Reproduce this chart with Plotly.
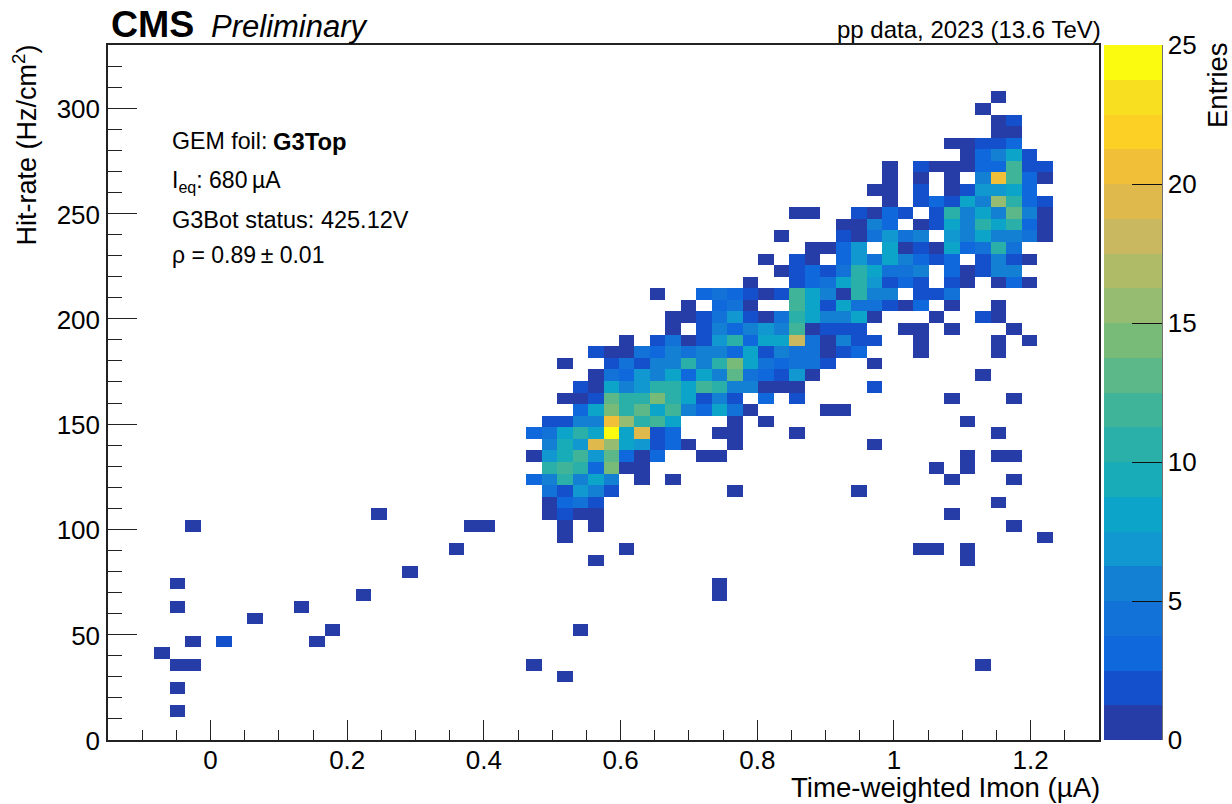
import plotly.graph_objects as go

# Histogram binning
x_min, x_max, n_x = -0.15, 1.30, 64
y_min, y_max, n_y = 0.0, 330.0, 60

band_colors = ["#263ca6", "#1450cc", "#0f68dc", "#1272d8", "#1480d4", "#1298d0", "#0ca4c8",
               "#18acb8", "#2ab0a8", "#40b498", "#5cb888", "#78ba78", "#95bc70", "#b0bb68",
               "#c9b860", "#dfb94b", "#f2bf38", "#fdd026", "#f8e020", "#fbfb10"]

# Entries per y bin: (first x bin, counts in consecutive x bins)
row_02 = [(4, [1])]
row_04 = [(4, [1])]
row_05 = [(29, [1])]
row_06 = [(4, [1, 1]), (27, [1]), (56, [1])]
row_07 = [(3, [1])]
row_08 = [(5, [1]), (7, [2]), (13, [1])]
row_09 = [(14, [1]), (30, [1])]
row_10 = [(9, [1])]
row_11 = [(4, [1]), (12, [1])]
row_12 = [(16, [1]), (39, [1])]
row_13 = [(4, [1]), (39, [1])]
row_14 = [(19, [1])]
row_15 = [(31, [1]), (55, [1])]
row_16 = [(22, [1]), (33, [1]), (52, [1, 1]), (55, [1])]
row_17 = [(29, [1]), (60, [1])]
row_18 = [(5, [1]), (23, [1, 1]), (29, [1]), (31, [1]), (58, [1])]
row_19 = [(17, [1]), (28, [1, 2, 1, 1]), (54, [1])]
row_20 = [(28, [1, 3, 4, 2]), (57, [1])]
row_21 = [(28, [4, 2, 7, 5, 2]), (40, [1]), (48, [1])]
row_22 = [(27, [3, 5, 11, 5, 8, 5]), (34, [1]), (36, [1]), (54, [1]), (58, [1])]
row_23 = [(28, [11, 12, 10, 3, 14, 1, 1]), (53, [1]), (55, [1])]
row_24 = [(27, [1, 7, 9, 12, 7, 13, 3, 1, 3]), (38, [1, 1]), (55, [1]), (57, [1, 1])]
row_25 = [(28, [5, 9, 7, 19, 15, 8, 7, 2, 3, 1]), (40, [1]), (49, [1])]
row_26 = [(27, [3, 4, 8, 10, 8, 25, 8, 19, 2, 3]), (39, [1, 1]), (44, [1]), (57, [1])]
row_27 = [(28, [2, 2, 5, 5, 21, 15, 10, 12, 8]), (40, [1]), (42, [1]), (55, [1])]
row_28 = [(30, [3, 8, 14, 11, 13, 8, 12, 5, 3, 8, 4, 1]), (46, [1, 1])]
row_29 = [(29, [1, 1, 2, 13, 11, 11, 14, 11, 8, 2, 5, 2]), (42, [3]), (44, [2]), (54, [1]), (58, [1])]
row_30 = [(30, [2, 1, 8, 5, 7, 11, 11, 8, 12, 11, 5, 5, 1, 1, 1]), (49, [2])]
row_31 = [(31, [1, 4, 3, 7, 5, 8, 3, 8, 5, 13, 4, 3, 2, 7, 1]), (56, [1])]
row_32 = [(29, [1]), (32, [2, 4, 2, 5, 5, 11, 5, 11, 14, 8, 4, 3, 4, 4, 2]), (49, [1])]
row_33 = [(31, [2, 1, 1, 4, 3, 5, 4, 5, 5, 3, 8, 2, 5, 4, 4, 1, 2, 3]), (52, [1]), (57, [1])]
row_34 = [(33, [1]), (35, [2, 4, 1, 2, 7, 11, 3, 8, 8, 18, 4, 1, 5, 2, 2]), (52, [1]), (57, [1]), (59, [1])]
row_35 = [(36, [1]), (38, [2, 5, 3, 5, 7, 6, 12, 1, 2, 2, 2]), (51, [1, 1]), (54, [1]), (58, [1])]
row_36 = [(36, [1, 1, 2, 4, 7, 2, 1, 4, 11, 8, 5, 6, 8, 1]), (53, [1]), (56, [2, 1])]
row_37 = [(37, [1]), (39, [3, 4, 1]), (44, [12, 8, 2, 8, 4, 4, 2, 1, 3]), (54, [1]), (57, [1])]
row_38 = [(35, [1]), (38, [3, 4, 3, 2, 1, 2, 12, 8, 5, 1, 10, 6, 6]), (52, [2, 2, 4])]
row_39 = [(41, [1]), (44, [2, 3, 4, 8, 10, 7, 2, 3, 2]), (54, [2, 1]), (57, [1, 3, 1])]
row_40 = [(43, [1, 2, 3, 2, 4, 11, 8, 4, 4, 5]), (54, [3, 1, 2, 5, 5])]
row_41 = [(42, [1]), (44, [2, 1]), (47, [3, 7, 4, 8, 5, 3, 2, 3]), (56, [2, 5, 2, 1])]
row_42 = [(45, [1, 1, 3, 7]), (50, [8, 1, 2, 1, 8, 3, 4, 10, 4])]
row_43 = [(43, [1]), (47, [2, 1, 4, 7, 4, 5]), (54, [7, 5, 8, 5, 5, 4, 1])]
row_44 = [(47, [1, 1, 5, 3]), (52, [1, 2, 8, 5, 10, 8, 11, 3, 1])]
row_45 = [(44, [1, 1]), (48, [2, 1, 3, 2]), (53, [2, 11, 5, 8, 5, 13, 5, 1])]
row_46 = [(50, [1]), (52, [2, 3, 2, 8, 5, 15, 10, 3, 2])]
row_47 = [(49, [1, 1]), (52, [2]), (54, [1, 2, 7, 7, 8, 3])]
row_48 = [(50, [1]), (52, [1]), (54, [1]), (56, [5, 21, 12, 3, 1])]
row_49 = [(50, [1]), (52, [2, 1, 1, 1, 3, 3, 12, 2, 2])]
row_50 = [(55, [1, 3, 5, 8, 2])]
row_51 = [(54, [1, 1, 2, 2, 3])]
row_52 = [(57, [1, 1])]
row_53 = [(57, [1, 2])]
row_54 = [(56, [1])]
row_55 = [(57, [1])]

x_ticks = [0, 0.2, 0.4, 0.6, 0.8, 1, 1.2]
y_ticks = [0, 50, 100, 150, 200, 250, 300]
z_ticks = [0, 5, 10, 15, 20, 25]

rows = {j: globals()[f"row_{j:02d}"] for j in range(n_y) if f"row_{j:02d}" in globals()}
z = [[None] * n_x for _ in range(n_y)]
for j, segments in rows.items():
    for first, counts in segments:
        for i, c in enumerate(counts):
            z[j][first + i] = c

dx = (x_max - x_min) / n_x
dy = (y_max - y_min) / n_y
n_b = len(band_colors)
scale = []
for i, c in enumerate(band_colors):
    scale += [[i / n_b, c], [(i + 1) / n_b, c]]

FONT = "Liberation Sans"
LEFT, RIGHT, TOP, BOTTOM = 108.0, 1099.0, 45.0, 740.0
W, H = 1232, 804


def px(x):
    return (x - LEFT) / (RIGHT - LEFT)


def py(y):
    return (BOTTOM - y) / (BOTTOM - TOP)


fig = go.Figure(go.Heatmap(
    z=z, x0=x_min + dx / 2, dx=dx, y0=y_min + dy / 2, dy=dy,
    zmin=0, zmax=25, colorscale=scale, hoverongaps=False,
    colorbar=dict(
        x=px(1104), xanchor="left", xpad=0, y=0.5, yanchor="middle", ypad=0,
        len=1, lenmode="fraction", thickness=58, thicknessmode="pixels",
        outlinewidth=0,
        tickmode="array", tickvals=z_ticks, ticktext=[str(v) for v in z_ticks],
        ticks="inside", ticklen=30, tickwidth=1.2, tickcolor="#111111",
        tickfont=dict(family=FONT, size=26, color="black"),
    ),
))

axis_line = dict(showline=True, mirror=True, linecolor="#222222", linewidth=1.5,
                 showgrid=False, zeroline=False, ticks="inside", tickcolor="#222222",
                 tickwidth=1.2, tickfont=dict(family=FONT, size=26, color="black"))
fig.update_xaxes(range=[x_min, x_max], tickmode="array", tickvals=x_ticks,
                 ticktext=[str(v) for v in x_ticks], ticklen=20, ticklabelstandoff=-4,
                 minor=dict(dtick=0.05, tick0=0, ticks="inside", ticklen=10, tickwidth=1.2,
                            tickcolor="#222222", showgrid=False), **axis_line)
fig.update_yaxes(range=[y_min, y_max], tickmode="array", tickvals=y_ticks,
                 ticktext=[str(v) for v in y_ticks], ticklen=29, ticklabelstandoff=1, ticklabelshift=1,
                 minor=dict(dtick=10, tick0=0, ticks="inside", ticklen=14, tickwidth=1.2,
                            tickcolor="#222222", showgrid=False), **axis_line)


def note(x, y, text, size, xanchor="left", yanchor="middle", angle=0):
    fig.add_annotation(x=px(x), y=py(y), xref="paper", yref="paper", text=text, showarrow=False,
                       xanchor=xanchor, yanchor=yanchor, textangle=angle, borderpad=0, borderwidth=0,
                       font=dict(family=FONT, size=size, color="black"))


note(111, 24, "<b>CMS</b>", 37.5)
note(211, 26, "<i>Preliminary</i>", 31)
note(1101, 29, "pp data, 2023 (13.6 TeV)", 24, xanchor="right")
note(172, 141, "GEM foil:", 23.2)
note(273, 141, "<b>G3Top</b>", 23.8)
note(172, 181, "I<sub>eq</sub>: 680\u2009\u00b5A", 23)
note(172, 220, "G3Bot status: 425.12V", 23.5)
note(172, 255, "\u03c1 = 0.89\u2009\u00b1 0.01", 23)
note(1100, 787, "Time-weighted Imon (\u00b5A)", 27.6, xanchor="right")
note(24, 45, "Hit-rate (Hz/cm<sup>2</sup>)", 27, xanchor="center", yanchor="top", angle=-90)
note(1217, 42, "Entries", 27.5, xanchor="center", yanchor="top", angle=-90)

# Right edge of the palette axis, drawn as in the reference (no left outline)
fig.add_shape(type="line", xref="paper", yref="paper", x0=px(1162), x1=px(1162), y0=0, y1=1,
              line=dict(color="#111111", width=1.2))

fig.update_layout(
    width=W, height=H, autosize=False,
    margin=dict(l=LEFT, r=W - RIGHT, t=TOP, b=H - BOTTOM, pad=0, autoexpand=False),
    paper_bgcolor="white", plot_bgcolor="white",
    font=dict(family=FONT, color="black"), showlegend=False,
)
fig.write_html("out.html", config={"displayModeBar": False},
               post_script="document.body.style.margin='0';document.body.style.overflow='hidden';")
